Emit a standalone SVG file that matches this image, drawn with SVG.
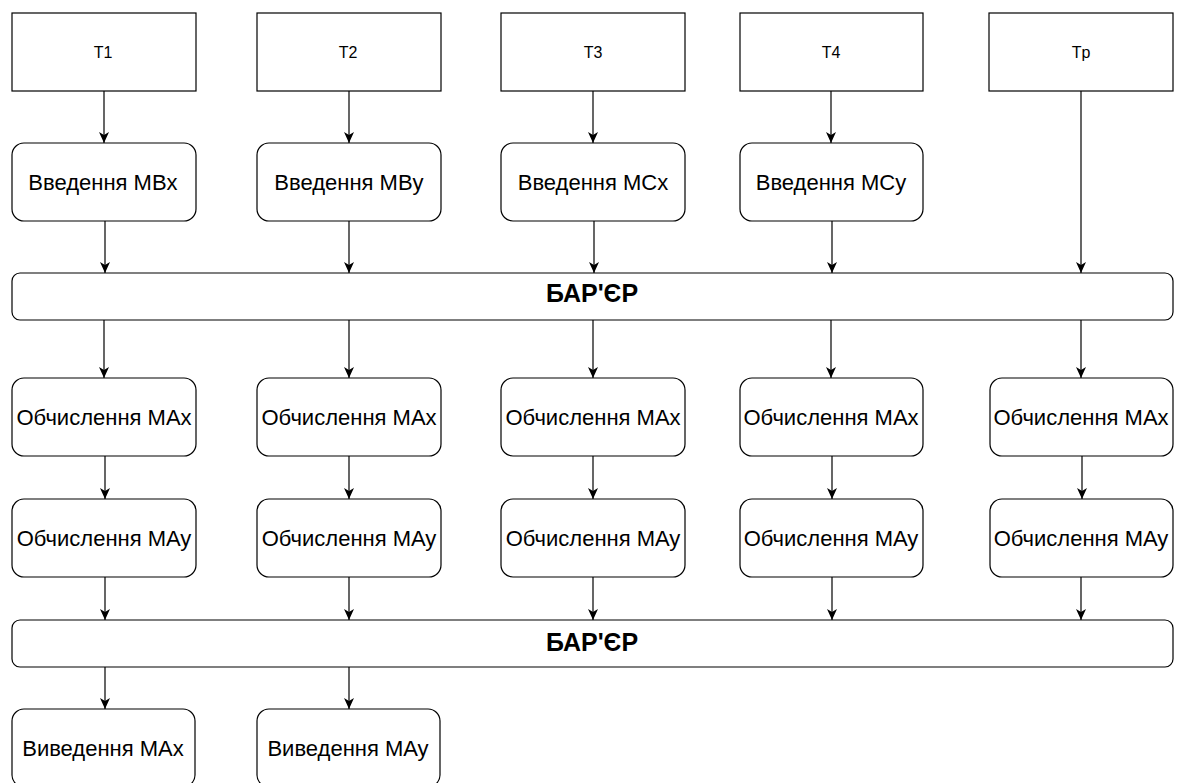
<svg xmlns="http://www.w3.org/2000/svg" width="1181" height="783" viewBox="0 0 1181 783">
  <style>
    .box { fill: #ffffff; stroke: #000000; stroke-width: 1.2; }
    .lbl { font-family: "Liberation Sans", Arial, Helvetica, sans-serif; fill: #000000; text-anchor: middle; }
    .t { font-size: 16px; }
    .n { font-size: 22px; }
    .b { font-size: 25px; font-weight: bold; }
    .edge { stroke: #000000; stroke-width: 1.2; fill: none; marker-end: url(#arrow); }
  </style>
  <defs>
    <marker id="arrow" viewBox="0 0 11 10" refX="11" refY="5" markerWidth="11" markerHeight="10" markerUnits="userSpaceOnUse" orient="auto">
      <path d="M0,0 L11,5 L0,10 L3,5 Z" fill="#000000"/>
    </marker>
  </defs>
  <rect width="1181" height="783" fill="#ffffff"/>

  <!-- thread headers -->
  <g id="t1"><rect class="box" x="12" y="13" width="184" height="78"/><text class="lbl t" x="103" y="58">T1</text></g>
  <g id="t2"><rect class="box" x="257" y="13" width="184" height="78"/><text class="lbl t" x="348" y="58">T2</text></g>
  <g id="t3"><rect class="box" x="501" y="13" width="184" height="78"/><text class="lbl t" x="593" y="58">T3</text></g>
  <g id="t4"><rect class="box" x="740" y="13" width="183" height="78"/><text class="lbl t" x="831" y="58">T4</text></g>
  <g id="tp"><rect class="box" x="989" y="13" width="184" height="78"/><text class="lbl t" x="1081" y="58">Tp</text></g>

  <!-- input stage -->
  <g id="in-mbx"><rect class="box" x="12" y="143" width="184" height="78" rx="12"/><text class="lbl n" x="103" y="189.5">Введення MBx</text></g>
  <g id="in-mby"><rect class="box" x="257" y="143" width="184" height="78" rx="12"/><text class="lbl n" x="349" y="189.5">Введення MBy</text></g>
  <g id="in-mcx"><rect class="box" x="501" y="143" width="184" height="78" rx="12"/><text class="lbl n" x="593" y="189.5">Введення MCx</text></g>
  <g id="in-mcy"><rect class="box" x="740" y="143" width="183" height="78" rx="12"/><text class="lbl n" x="831" y="189.5">Введення MCy</text></g>

  <!-- first barrier -->
  <g id="barrier1"><rect class="box" x="12" y="273" width="1161" height="47" rx="8"/><text class="lbl b" x="592" y="302">БАР'ЄР</text></g>

  <!-- compute MAx -->
  <g id="max1"><rect class="box" x="12" y="378" width="184" height="78" rx="12"/><text class="lbl n" x="104" y="425">Обчислення MAx</text></g>
  <g id="max2"><rect class="box" x="257" y="378" width="184" height="78" rx="12"/><text class="lbl n" x="349" y="425">Обчислення MAx</text></g>
  <g id="max3"><rect class="box" x="501" y="378" width="184" height="78" rx="12"/><text class="lbl n" x="593" y="425">Обчислення MAx</text></g>
  <g id="max4"><rect class="box" x="740" y="378" width="183" height="78" rx="12"/><text class="lbl n" x="831" y="425">Обчислення MAx</text></g>
  <g id="max5"><rect class="box" x="990" y="378" width="183" height="78" rx="12"/><text class="lbl n" x="1081" y="425">Обчислення MAx</text></g>

  <!-- compute MAy -->
  <g id="may1"><rect class="box" x="12" y="499" width="184" height="78" rx="12"/><text class="lbl n" x="104" y="546">Обчислення MAy</text></g>
  <g id="may2"><rect class="box" x="257" y="499" width="184" height="78" rx="12"/><text class="lbl n" x="349" y="546">Обчислення MAy</text></g>
  <g id="may3"><rect class="box" x="501" y="499" width="184" height="78" rx="12"/><text class="lbl n" x="593" y="546">Обчислення MAy</text></g>
  <g id="may4"><rect class="box" x="740" y="499" width="183" height="78" rx="12"/><text class="lbl n" x="831" y="546">Обчислення MAy</text></g>
  <g id="may5"><rect class="box" x="990" y="499" width="183" height="78" rx="12"/><text class="lbl n" x="1081" y="546">Обчислення MAy</text></g>

  <!-- second barrier -->
  <g id="barrier2"><rect class="box" x="12" y="620" width="1161" height="47" rx="8"/><text class="lbl b" x="592" y="651">БАР'ЄР</text></g>

  <!-- output stage -->
  <g id="out-max"><rect class="box" x="12" y="709" width="183" height="78" rx="12"/><text class="lbl n" x="103" y="756">Виведення MAx</text></g>
  <g id="out-may"><rect class="box" x="257" y="709" width="183" height="78" rx="12"/><text class="lbl n" x="348" y="756">Виведення MAy</text></g>

  <!-- connectors -->
  <g id="edges">
    <path class="edge" d="M104,91 V143"/>
    <path class="edge" d="M349,91 V143"/>
    <path class="edge" d="M593,91 V143"/>
    <path class="edge" d="M831,91 V143"/>
    <path class="edge" d="M1081,91 V273"/>

    <path class="edge" d="M105,221 V273"/>
    <path class="edge" d="M349,221 V273"/>
    <path class="edge" d="M594,221 V273"/>
    <path class="edge" d="M832,221 V273"/>

    <path class="edge" d="M104,320 V378"/>
    <path class="edge" d="M349,320 V378"/>
    <path class="edge" d="M593,320 V378"/>
    <path class="edge" d="M831,320 V378"/>
    <path class="edge" d="M1081,320 V378"/>

    <path class="edge" d="M105,456 V499"/>
    <path class="edge" d="M349,456 V499"/>
    <path class="edge" d="M593,456 V499"/>
    <path class="edge" d="M832,456 V499"/>
    <path class="edge" d="M1082,456 V499"/>

    <path class="edge" d="M105,577 V620"/>
    <path class="edge" d="M349,577 V620"/>
    <path class="edge" d="M593,577 V620"/>
    <path class="edge" d="M832,577 V620"/>
    <path class="edge" d="M1081,577 V620"/>

    <path class="edge" d="M105,667 V709"/>
    <path class="edge" d="M349,667 V709"/>
  </g>
</svg>
